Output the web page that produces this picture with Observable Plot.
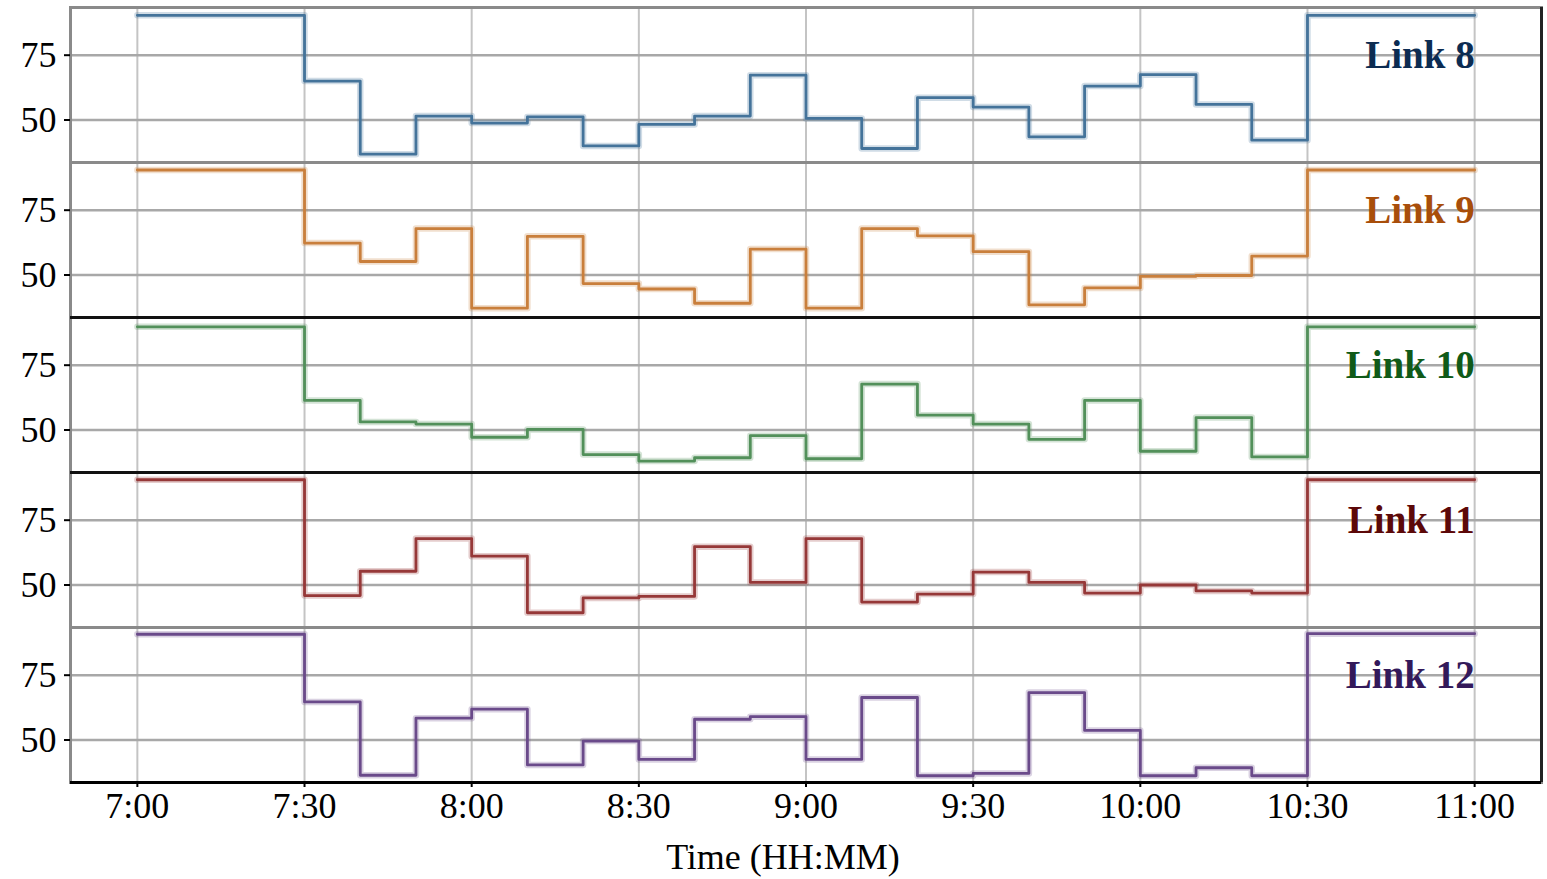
<!DOCTYPE html>
<html>
<head>
<meta charset="utf-8">
<script src="https://cdn.jsdelivr.net/npm/d3@7"></script>
<script src="https://cdn.jsdelivr.net/npm/@observablehq/plot@0.6"></script>
<style>
  body { margin: 0; background: #fff; }
  #wrap { position: relative; width: 1547px; height: 879px; background: #fff; }
  #xlabel { position: absolute; top: 837px; left: 0; width: 1566px; text-align: center;
            font: 36px "Liberation Serif", "Times New Roman", serif; line-height: 40px; color: #000; }
</style>
</head>
<body>
<div id="wrap"><div id="chart"></div><div id="xlabel">Time (HH:MM)</div></div>
<script>
// ---- data ----
const times = ["7:00","7:30","7:40","7:50","8:00","8:10","8:20","8:30","8:40","8:50","9:00",
               "9:10","9:20","9:30","9:40","9:50","10:00","10:10","10:20","10:30","11:00"];
const linkNames = ["Link 8", "Link 9", "Link 10", "Link 11", "Link 12"];
const link8  = [90.4, 65.0, 36.8, 51.5, 48.8, 51.2, 40.0, 48.3, 51.5, 67.3, 50.6, 39.0, 58.6, 55.0, 43.5, 63.1, 67.5, 56.0, 42.2, 90.4, 90.4];
const link9  = [90.5, 62.3, 55.2, 67.9, 37.2, 64.9, 46.7, 44.6, 39.1, 60.0, 37.2, 67.9, 65.1, 59.0, 38.5, 45.0, 49.5, 49.8, 57.3, 90.5, 90.5];
const link10 = [89.8, 61.4, 53.1, 52.3, 47.2, 50.2, 40.5, 38.0, 39.3, 47.8, 38.9, 67.7, 55.7, 52.3, 46.4, 61.4, 41.8, 54.8, 39.6, 89.8, 89.8];
const link11 = [90.6, 45.9, 55.3, 67.9, 61.1, 39.3, 45.0, 45.6, 64.8, 51.0, 67.9, 43.4, 46.5, 55.0, 51.0, 46.9, 50.0, 47.7, 46.9, 90.6, 90.6];
const link12 = [90.8, 64.7, 36.4, 58.4, 61.9, 40.4, 49.6, 42.5, 58.0, 59.0, 42.5, 66.4, 36.2, 37.1, 68.3, 53.7, 36.2, 39.3, 36.2, 91.0, 91.0];
const xTickLabels = ["7:00","7:30","8:00","8:30","9:00","9:30","10:00","10:30","11:00"];
const yTicks = [50, 75];
const xDomainLabels = ["6:48", "11:12"];
const yDomain = [33.6, 93.4];
const labelAt = {time: "11:00", value: 75};

// ---- styles ----
const lineColors  = ["#44739a", "#c97f3c", "#52905a", "#963838", "#6a4a8a"];
const labelColors = ["#0c2c52", "#a84e0a", "#105a18", "#5c0808", "#33195a"];
const blackTopEdges = ["Link 10", "Link 11"];

const toMin = s => { const [h, m] = s.split(":").map(Number); return h * 60 + m; };
const series = [link8, link9, link10, link11, link12];
const rows = linkNames.flatMap((name, i) => times.map((t, j) => ({link: name, t: toMin(t), v: series[i][j]})));
const labels = linkNames.map((name, i) => ({link: name, color: labelColors[i]}));
const xTicks = xTickLabels.map(toMin);
const fmt = m => xTickLabels[xTicks.indexOf(m)] ?? "";

const W = 1547, H = 825, plotBottom = 783;
const font = '"Liberation Serif", "Times New Roman", serif';

const chart = Plot.plot({
  width: W, height: H,
  marginTop: 5, marginBottom: H - plotBottom, marginLeft: 70, marginRight: 6,
  style: {fontFamily: font, fontSize: "36px", color: "#000", background: "#fff", overflow: "visible"},
  x: {domain: xDomainLabels.map(toMin)},
  y: {domain: yDomain},
  fy: {domain: linkNames, padding: 0, axis: null},
  color: {domain: linkNames, range: lineColors},
  marks: [
    Plot.gridX(xTicks, {stroke: "#c4c4c4", strokeOpacity: 1, strokeWidth: 2}),
    Plot.gridY(yTicks, {stroke: "#a8a8a8", strokeOpacity: 1, strokeWidth: 2.5}),
    Plot.frame({stroke: "#8a8a8a", strokeWidth: 3}),
    Plot.ruleY(blackTopEdges.map(l => ({link: l})), {fy: "link", y: () => yDomain[1], stroke: "#111", strokeWidth: 3}),
    Plot.ruleX(linkNames.map(l => ({link: l})), {fy: "link", x: () => toMin(xDomainLabels[1]), stroke: "#222", strokeWidth: 3}),
    Plot.lineY(rows, {x: "t", y: "v", fy: "link", stroke: "link", curve: "step-after", strokeWidth: 6.5, strokeOpacity: 0.25}),
    Plot.lineY(rows, {x: "t", y: "v", fy: "link", stroke: "link", curve: "step-after", strokeWidth: 2.8}),
    Plot.text(labels, {fy: "link", x: () => toMin(labelAt.time), y: () => labelAt.value, text: "link",
      fill: "color", textAnchor: "end", lineAnchor: "middle", fontWeight: "bold", fontSize: 39, fontFamily: font}),
    Plot.axisY(yTicks, {tickSize: 6, tickPadding: 8, fontSize: 36, fontFamily: font, label: null, strokeWidth: 2}),
    Plot.axisX(xTicks, {tickSize: 5, tickPadding: 5, fontSize: 36, fontFamily: font, label: null, tickFormat: fmt, strokeWidth: 2}),
    Plot.ruleY(["Link 12"].map(l => ({link: l})), {fy: "link", y: () => yDomain[0], stroke: "#000", strokeWidth: 3})
  ]
});
document.getElementById("chart").appendChild(chart);
</script>
</body>
</html>
